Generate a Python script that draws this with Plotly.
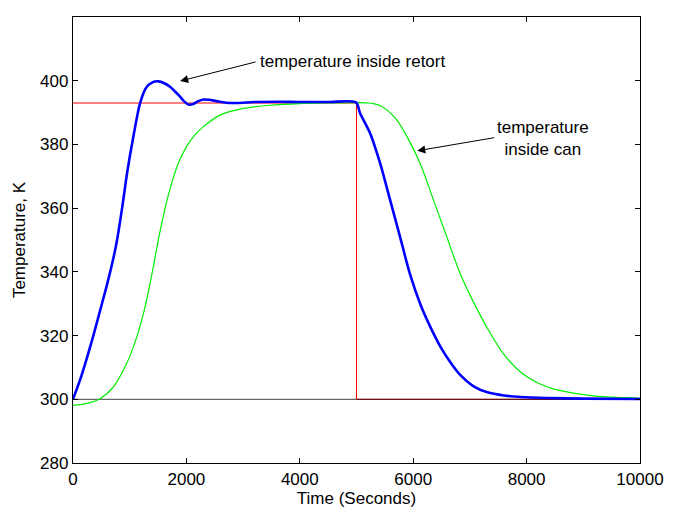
import plotly.graph_objects as go

# Retort / can heating and cooling run
retort_t = [0, 123, 242, 359, 477, 600, 700, 782, 870, 958, 1064, 1182, 1290, 1400,
            1508, 1610, 1711, 1800, 1888, 1960, 2038, 2120, 2200, 2300, 2400, 2530,
            2700, 2900, 3200, 3600, 4000, 4500, 4990, 5063, 5240, 5416, 5592, 5768,
            5945, 6131, 6308, 6484, 6661, 6838, 7073, 7309, 7603, 7898, 8369, 9000, 10000]
retort_T = [300.0, 306.0, 312.8, 320.0, 327.8, 336.0, 343.3, 350.5, 360.5, 371.5, 382.4,
            392.9, 397.8, 399.5, 399.8, 399.2, 398.1, 396.6, 395.0, 393.5, 392.5, 392.7,
            393.5, 394.1, 394.0, 393.6, 393.1, 393.0, 393.3, 393.4, 393.3, 393.3, 393.2,
            389.8, 383.5, 374.1, 362.6, 351.0, 339.2, 329.6, 322.5, 316.4, 311.5, 307.5,
            304.0, 302.2, 301.2, 300.7, 300.4, 300.2, 300.1]

can_t = [0, 242, 477, 712, 948, 1125, 1272, 1417, 1510, 1594, 1680, 1770, 1880, 2005,
         2150, 2300, 2593, 3005, 3475, 4000, 4500, 5000, 5200, 5300, 5416, 5550, 5710,
         5886, 6121, 6357, 6592, 6827, 7044, 7309, 7603, 7898, 8193, 8428, 8800, 9180,
         9600, 10000]
can_T = [298.1, 298.7, 300.2, 303.9, 311.3, 319.6, 329.1, 341.6, 350.5, 357.6, 364.0,
         369.6, 375.0, 379.4, 383.0, 385.6, 389.2, 391.3, 392.3, 392.8, 393.0, 393.1,
         393.0, 392.8, 392.2, 390.6, 387.7, 382.6, 374.1, 362.6, 351.0, 339.5, 331.2,
         322.3, 314.0, 308.5, 305.2, 303.5, 302.0, 301.1, 300.6, 300.35]

setpoint_t = [0, 5000, 5000, 10000]
setpoint_T = [393, 393, 300, 300]

ambient_t = [0, 10000]
ambient_T = [300, 300]

x_ticks = [0, 2000, 4000, 6000, 8000, 10000]
x_labels = ["0", "2000", "4000", "6000", "8000", "10000"]
y_ticks = [280, 300, 320, 340, 360, 380, 400, 420]

FONT = "Liberation Sans, Arial, Helvetica, sans-serif"
FS = 17

fig = go.Figure()

fig.add_trace(go.Scatter(x=setpoint_t, y=setpoint_T, mode="lines",
                         line=dict(color="#ff0000", width=1)))
fig.add_trace(go.Scatter(x=ambient_t, y=ambient_T, mode="lines",
                         line=dict(color="rgba(0,0,0,0.6)", width=1.2)))
fig.add_trace(go.Scatter(x=can_t, y=can_T, mode="lines", line_shape="spline",
                         line=dict(color="#00ee00", width=1.2, smoothing=0.8)))
fig.add_trace(go.Scatter(x=retort_t, y=retort_T, mode="lines", line_shape="spline",
                         line=dict(color="#0000ff", width=2.6, smoothing=0.8)))

# arrows (no text) + separate labels
fig.add_annotation(x=1890, y=399.9, ax=3246, ay=406.0, axref="x", ayref="y",
                   text="", showarrow=True, arrowhead=2, arrowsize=1.6,
                   arrowwidth=1, arrowcolor="black")
fig.add_annotation(x=3270, y=406.0, text="temperature inside retort", showarrow=False,
                   xanchor="left", yanchor="middle", font=dict(size=FS, color="black"))

fig.add_annotation(x=6072, y=378.0, ax=7456, ay=382.2, axref="x", ayref="y",
                   text="", showarrow=True, arrowhead=2, arrowsize=1.6,
                   arrowwidth=1, arrowcolor="black")
fig.add_annotation(x=8281, y=382.0, text="temperature<br>inside can", showarrow=False,
                   xanchor="center", yanchor="middle", align="center",
                   font=dict(size=FS, color="black"))

axis_style = dict(showgrid=False, zeroline=False, showline=True, linecolor="black",
                  linewidth=1.3, mirror="ticks", ticks="inside", ticklen=5,
                  tickwidth=1, tickcolor="black", automargin=False,
                  tickfont=dict(size=FS, color="black"))

fig.update_xaxes(range=[0, 10000], tickvals=x_ticks, ticktext=x_labels,
                 title=dict(text="Time (Seconds)", font=dict(size=FS, color="black"),
                            standoff=3),
                 **axis_style)
fig.update_yaxes(range=[280, 420], tickvals=y_ticks,
                 title=dict(text="Temperature, K", font=dict(size=FS, color="black"),
                            standoff=10),
                 **axis_style)

# page body adds an 8px margin, so the figure is 8px smaller than the window
fig.update_layout(width=672, height=501, showlegend=False,
                  margin=dict(l=65, r=40, t=9, b=46),
                  paper_bgcolor="white", plot_bgcolor="white",
                  font=dict(family=FONT, size=FS, color="black"))

fig.write_html("out.html")
